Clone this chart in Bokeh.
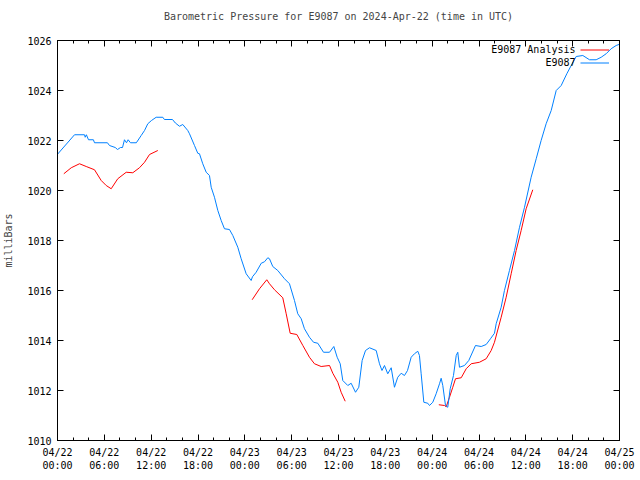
import math
from bokeh.plotting import figure
from bokeh.models import (Range1d, LinearAxis, FixedTicker, Legend, LegendItem, Label,
                          CustomLabelingPolicy)
from bokeh.embed import file_html
from bokeh.resources import INLINE

title_text = "Barometric Pressure for E9087 on 2024-Apr-22 (time in UTC)"
y_label = "milliBars"
series_names = ["E9087 Analysis", "E9087"]

# hours since 2024-04-22 00:00 UTC
tick_hours = [0, 6, 12, 18, 24, 30, 36, 42, 48, 54, 60, 66, 72]
tick_labels = ["04/22\n00:00", "04/22\n06:00", "04/22\n12:00", "04/22\n18:00",
               "04/23\n00:00", "04/23\n06:00", "04/23\n12:00", "04/23\n18:00",
               "04/24\n00:00", "04/24\n06:00", "04/24\n12:00", "04/24\n18:00",
               "04/25\n00:00"]
minor_hours = list(range(0, 73, 2))
y_ticks = [1010, 1012, 1014, 1016, 1018, 1020, 1022, 1024, 1026]

station_hours = [
    0.0, 2.18, 3.46, 3.55, 3.7, 3.97, 4.6, 4.74, 6.4, 6.66, 7.4, 7.69, 8.07, 8.33,
    8.58, 8.84, 9.05, 9.35, 10.1, 10.72, 11.15, 11.57, 12.04, 12.64, 13.49, 13.7,
    14.73, 15.1, 15.63, 16.05, 16.69, 16.91, 17.55, 17.97, 18.19, 18.61, 19.05,
    19.47, 19.69, 20.11, 20.54, 20.97, 21.39, 22.03, 22.46, 23.1, 23.53, 24.17,
    24.81, 24.98, 25.45, 26.1, 26.52, 26.94, 27.16, 27.58, 28.22, 29.08, 29.72,
    30.36, 30.78, 31.22, 31.64, 32.28, 32.8, 33.35, 34.08, 34.85, 35.4, 35.83,
    36.22, 36.55, 37.19, 37.62, 38.18, 38.6, 39.03, 39.46, 39.97, 40.83, 41.25,
    41.57, 41.89, 42.31, 42.75, 43.17, 43.59, 44.03, 44.45, 44.84, 45.31, 45.73,
    46.16, 46.37, 46.59, 46.93, 47.44, 47.66, 48.08, 48.51, 48.94, 49.15, 49.36,
    49.71, 50.0, 50.31, 50.73, 51.08, 51.28, 51.5, 52.14, 52.69, 53.55, 54.28,
    54.92, 55.47, 55.98, 56.2, 56.84, 57.26, 57.9, 58.55, 59.19, 59.83, 60.68,
    61.33, 61.96, 62.6, 63.25, 63.89, 64.53, 65.25, 65.81, 66.45, 67.3, 68.16,
    69.01, 69.65, 70.29, 70.93, 71.57, 72.0]
station_mb = [
    1021.45, 1022.23, 1022.23, 1022.13, 1022.23, 1022.03, 1022.03, 1021.91, 1021.91,
    1021.8, 1021.72, 1021.64, 1021.72, 1021.72, 1022.03, 1021.91, 1022.03, 1021.91,
    1021.91, 1022.2, 1022.4, 1022.67, 1022.8, 1022.93, 1022.93, 1022.84, 1022.84,
    1022.7, 1022.57, 1022.64, 1022.4, 1022.27, 1021.8, 1021.49, 1021.47, 1021.07,
    1020.73, 1020.6, 1020.13, 1019.73, 1019.2, 1018.8, 1018.47, 1018.44, 1018.2,
    1017.73, 1017.27, 1016.67, 1016.4, 1016.55, 1016.73, 1017.09, 1017.15, 1017.31,
    1017.27, 1016.96, 1016.8, 1016.47, 1016.27, 1015.6, 1015.07, 1014.87, 1014.47,
    1014.13, 1013.93, 1013.89, 1013.53, 1013.53, 1013.76, 1013.33, 1013.07, 1012.4,
    1012.2, 1012.29, 1011.93, 1012.13, 1013.2, 1013.6, 1013.71, 1013.6, 1013.07,
    1012.8, 1013.0, 1012.67, 1012.91, 1012.13, 1012.53, 1012.69, 1012.6, 1012.8,
    1013.33, 1013.47, 1013.57, 1013.4, 1012.67, 1011.53, 1011.49, 1011.4, 1011.53,
    1011.87, 1012.27, 1012.49, 1012.2, 1011.4, 1011.33, 1012.07, 1012.6, 1013.4,
    1013.53, 1012.93, 1013.0, 1013.2, 1013.8, 1013.76, 1013.84, 1014.07, 1014.29,
    1014.67, 1015.33, 1016.0, 1016.8, 1017.6, 1018.53, 1019.33, 1020.53, 1021.27,
    1022.0, 1022.67, 1023.2, 1024.0, 1024.2, 1024.67, 1025.0, 1025.36, 1025.4,
    1025.23, 1025.23, 1025.33, 1025.47, 1025.67, 1025.8, 1025.85]

NaN = float("nan")
analysis_hours = [
    0.81, 1.76, 2.82, 3.68, 4.74, 5.6, 6.24, 6.88, 7.72, 8.8, 9.65, 10.5, 11.15,
    11.79, 12.85, NaN,
    24.94, 25.88, 26.81, 27.16, 27.8, 28.86, 29.3, 29.81, 30.66, 31.43, 32.28,
    32.92, 33.78, 34.85, 35.27, 35.91, 36.34, 36.86, NaN,
    48.85, 49.58, 49.8, 50.22, 50.64, 50.99, 51.72, 52.36, 53.0, 54.06, 54.92,
    55.56, 55.98, 56.84, 57.48, 58.12, 58.76, 59.4, 60.04, 60.89]
analysis_mb = [
    1020.67, 1020.91, 1021.07, 1020.96, 1020.83, 1020.4, 1020.2, 1020.07, 1020.47,
    1020.73, 1020.71, 1020.91, 1021.13, 1021.44, 1021.6, NaN,
    1015.63, 1016.07, 1016.43, 1016.27, 1016.03, 1015.71, 1015.07, 1014.29, 1014.24,
    1013.8, 1013.33, 1013.07, 1012.96, 1013.0, 1012.69, 1012.33, 1011.93, 1011.57, NaN,
    1011.43, 1011.4, 1011.35, 1011.73, 1012.13, 1012.47, 1012.51, 1012.87, 1013.07,
    1013.13, 1013.27, 1013.6, 1013.93, 1014.93, 1015.73, 1016.67, 1017.6, 1018.4,
    1019.27, 1020.03]

FONT = "DejaVu Sans Mono"
FS = "10px"
BLUE = "#0080ff"
RED = "#ff0000"

p = figure(frame_width=562, frame_height=400, output_backend="svg",
           toolbar_location=None, x_range=Range1d(0, 72), y_range=Range1d(1010, 1026),
           min_border_left=50, min_border_right=12, min_border_top=32, min_border_bottom=30)
p.xgrid.visible = False
p.ygrid.visible = False
p.outline_line_color = "black"
p.outline_line_width = 1
p.background_fill_color = "white"

p.title.text = title_text
p.title.align = "center"
p.title.text_font = FONT
p.title.text_font_size = FS
p.title.text_font_style = "normal"
p.title.padding = 3
p.title.standoff = 10

xt = FixedTicker(ticks=tick_hours, minor_ticks=minor_hours)
yt = FixedTicker(ticks=y_ticks, minor_ticks=[])

def style_axis(ax):
    ax.axis_line_color = "black"
    ax.major_tick_in = 6
    ax.major_tick_out = 0
    ax.minor_tick_in = 3
    ax.minor_tick_out = 0
    ax.major_tick_line_color = "black"
    ax.minor_tick_line_color = "black"
    ax.major_label_text_font = FONT
    ax.major_label_text_font_size = FS
    ax.major_label_text_color = "black"

xa = p.xaxis[0]
xa.ticker = xt
style_axis(xa)
xa.major_label_overrides = {h: lab for h, lab in zip(tick_hours, tick_labels)}
xa.major_label_standoff = 6

ya = p.yaxis[0]
ya.ticker = yt
style_axis(ya)
ya.major_label_standoff = 6
ya.axis_label = y_label
ya.axis_label_text_font = FONT
ya.axis_label_text_font_size = FS
ya.axis_label_text_font_style = "normal"
ya.axis_label_standoff = 10

no_labels = CustomLabelingPolicy(code="""
for (const i of Array.from(indices)) { indices.unset(i) }
return indices
""")

top = LinearAxis(ticker=xt)
style_axis(top)
top.major_label_policy = no_labels
top.major_label_standoff = 0
p.add_layout(top, "above")

right = LinearAxis(ticker=yt)
style_axis(right)
right.major_label_policy = no_labels
right.major_label_standoff = 0
p.add_layout(right, "right")

r_an = p.line(analysis_hours, analysis_mb, line_color=RED, line_width=1)
r_st = p.line(station_hours, station_mb, line_color=BLUE, line_width=1)

legend = Legend(items=[LegendItem(label=" ", renderers=[r_an]),
                       LegendItem(label=" ", renderers=[r_st])],
                location=(523, 371.5), orientation="vertical",
                glyph_width=29, glyph_height=13, label_height=13, label_width=0,
                label_standoff=0, spacing=0, padding=0, margin=0,
                label_text_font=FONT, label_text_font_size=FS,
                border_line_color=None, background_fill_alpha=0)
p.add_layout(legend)

for i, name in enumerate(series_names):
    p.add_layout(Label(x=518, y=391 - 13 * i, x_units="screen", y_units="screen",
                       text=name, text_align="right", text_baseline="middle",
                       text_font=FONT, text_font_size=FS, text_color="black"))

open("out.html", "w").write(file_html(p, INLINE))
